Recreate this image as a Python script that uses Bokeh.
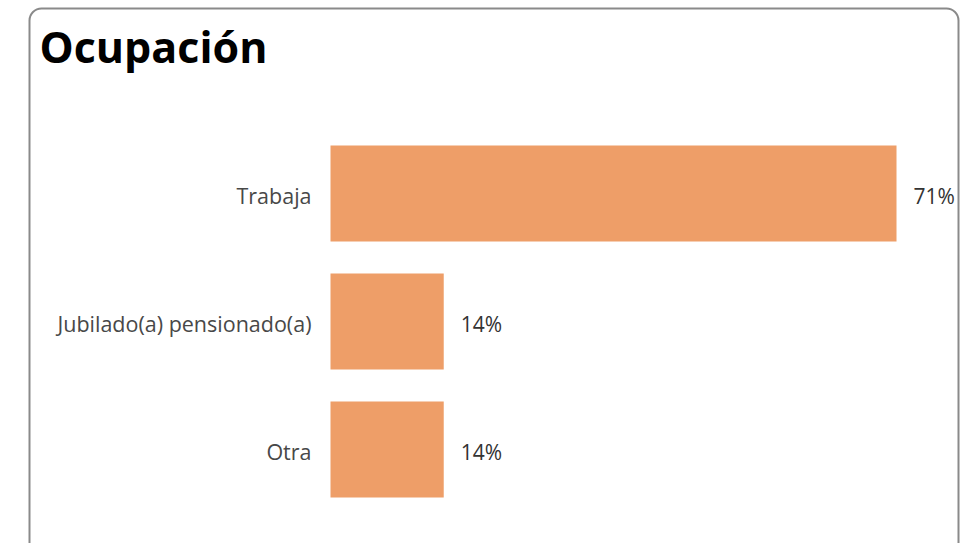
from bokeh.plotting import figure
from bokeh.models import Range1d, BoxAnnotation, Label, ColumnDataSource
from bokeh.core.properties import value
from bokeh.embed import file_html
from bokeh.resources import INLINE

# ---- data ----
title = "Ocupación"
categories = ["Trabaja", "Jubilado(a) pensionado(a)", "Otra"]
values = [71.43, 14.29, 14.29]
value_labels = ["71%", "14%", "14%"]

# ---- layout (pixels) ----
W, H = 960, 543
bar_left_px = 330
px_per_unit = 7.924
row_px = 128
first_center_px = 193

x_start = -bar_left_px / px_per_unit
x_end = (W - bar_left_px) / px_per_unit
y_top = -first_center_px / row_px
y_bottom = (H - first_center_px) / row_px


def xd(px):
    return x_start + px / px_per_unit


def yd(py):
    return y_top + py / row_px


src = ColumnDataSource(dict(
    pos=list(range(len(categories))),
    cat=categories,
    val=values,
    lab=value_labels,
))

p = figure(width=W, height=H,
           x_range=Range1d(x_start, x_end),
           y_range=Range1d(y_bottom, y_top),
           x_axis_location=None, y_axis_location=None,
           output_backend="svg", toolbar_location=None,
           min_border=0, min_border_left=0, min_border_right=0,
           min_border_top=0, min_border_bottom=0)
p.grid.visible = False
p.outline_line_color = None
p.background_fill_color = "white"
p.border_fill_color = "white"

# rounded frame box
box = BoxAnnotation(left=xd(29), right=xd(958), top=yd(8), bottom=yd(562),
                    fill_alpha=0, line_color="#8a8a8a", line_alpha=1.0,
                    line_width=2, border_radius=12)
p.add_layout(box)

p.hbar(y="pos", left=0, right="val", height=0.75, source=src,
       fill_color="#EE9E68", line_color=None)

font = value("Open Sans")
p.text(x=0, y="pos", text="cat", source=src, x_offset=-19, y_offset=2,
       text_align="right", text_baseline="middle", text_font=font,
       text_font_size="21.5px", text_color="#484848")
p.text(x="val", y="pos", text="lab", source=src, x_offset=17, y_offset=2,
       text_align="left", text_baseline="middle", text_font=font,
       text_font_size="21px", text_color="#333333")

p.add_layout(Label(x=xd(39), y=yd(46), text=title, text_font="Open Sans",
                   text_font_style="bold", text_font_size="43px",
                   text_color="#000000", text_baseline="alphabetic",
                   text_align="left"))

open("out.html", "w").write(file_html(p, INLINE))
